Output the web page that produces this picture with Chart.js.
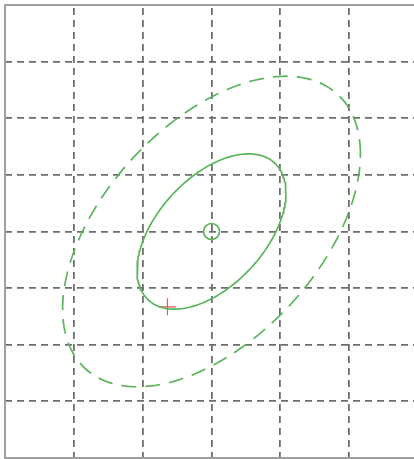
<!DOCTYPE html>
<html>
<head>
<meta charset="utf-8">
<script src="https://cdn.jsdelivr.net/npm/chart.js@4"></script>
<style>
  html, body { margin: 0; padding: 0; background: #fff; }
  #clip { position: relative; width: 414px; height: 459px; overflow: hidden; }
  #wrap { position: absolute; left: 0; top: 0; width: 420px; height: 459px; }
</style>
</head>
<body>
<div id="clip"><div id="wrap"><canvas id="ellipseChart"></canvas></div></div>
<script>
// ellipse parameters
var center = [3, 4];
var covXX = [1.17, 0.74];
var covYY = [0.74, 1.88];
var sigmaLevels = [1, 2];
var samplePoint = [2.36, 2.67];
var xTicks = [0, 1, 2, 3, 4, 5, 6];
var yTicks = [0, 1, 2, 3, 4, 5, 6, 7, 8];

var green = '#5cb45c';
var gridGrey = '#6e6e6e';

function ellipsePoints(level) {
  // Cholesky of the covariance, scaled by the sigma level
  var l11 = Math.sqrt(covXX[0]);
  var l21 = covXX[1] / l11;
  var l22 = Math.sqrt(covYY[1] - l21 * l21);
  var pts = [];
  for (var i = 0; i <= 180; i++) {
    var t = i / 180 * 2 * Math.PI;
    var c = Math.cos(t), s = Math.sin(t);
    pts.push({
      x: center[0] + level * l11 * c,
      y: center[1] + level * (l21 * c + l22 * s)
    });
  }
  return pts;
}

// frame round the plot area
var framePlugin = {
  id: 'frame',
  beforeDatasetsDraw: function(chart) {
    var a = chart.chartArea, ctx = chart.ctx;
    ctx.save();
    ctx.strokeStyle = '#a0a0a0';
    ctx.lineWidth = 2;
    ctx.strokeRect(a.left, a.top, a.right - a.left, a.bottom - a.top);
    ctx.restore();
  }
};

document.addEventListener('DOMContentLoaded', function() {
  new Chart(document.getElementById('ellipseChart'), {
    type: 'scatter',
    data: {
      datasets: [{
        label: '1 sigma',
        data: ellipsePoints(sigmaLevels[0]),
        showLine: true,
        borderColor: green,
        borderWidth: 1.7,
        pointRadius: 0,
        tension: 0
      }, {
        label: '2 sigma',
        data: ellipsePoints(sigmaLevels[1]),
        showLine: true,
        borderColor: green,
        borderWidth: 1.7,
        borderDash: [15, 9],
        pointRadius: 0,
        tension: 0
      }, {
        label: 'mean',
        data: [{ x: center[0], y: center[1] }],
        pointStyle: 'circle',
        pointRadius: 8,
        borderColor: green,
        borderWidth: 1.7,
        backgroundColor: 'rgba(0,0,0,0)'
      }, {
        label: 'sample',
        data: [{ x: samplePoint[0], y: samplePoint[1] }],
        pointStyle: 'cross',
        pointRadius: 8.5,
        borderColor: '#ee5555',
        borderWidth: 1.2
      }]
    },
    options: {
      responsive: true,
      maintainAspectRatio: false,
      animation: false,
      layout: { autoPadding: false, padding: { left: 5, top: 5, right: 2, bottom: 1 } },
      plugins: {
        legend: { display: false },
        tooltip: { enabled: false }
      },
      scales: {
        x: {
          type: 'linear',
          min: xTicks[0],
          max: xTicks[xTicks.length - 1],
          afterBuildTicks: function(axis) { axis.ticks = xTicks.map(function(v) { return { value: v }; }); },
          ticks: { display: false },
          grid: { color: gridGrey, lineWidth: 1.8, drawTicks: false },
          border: { display: false, dash: [7, 5], dashOffset: -3 }
        },
        y: {
          type: 'linear',
          min: yTicks[0],
          max: yTicks[yTicks.length - 1],
          afterBuildTicks: function(axis) { axis.ticks = yTicks.map(function(v) { return { value: v }; }); },
          ticks: { display: false },
          grid: { color: gridGrey, lineWidth: 1.8, drawTicks: false },
          border: { display: false, dash: [7, 5] }
        }
      }
    },
    plugins: [framePlugin]
  });
});
</script>
</body>
</html>
